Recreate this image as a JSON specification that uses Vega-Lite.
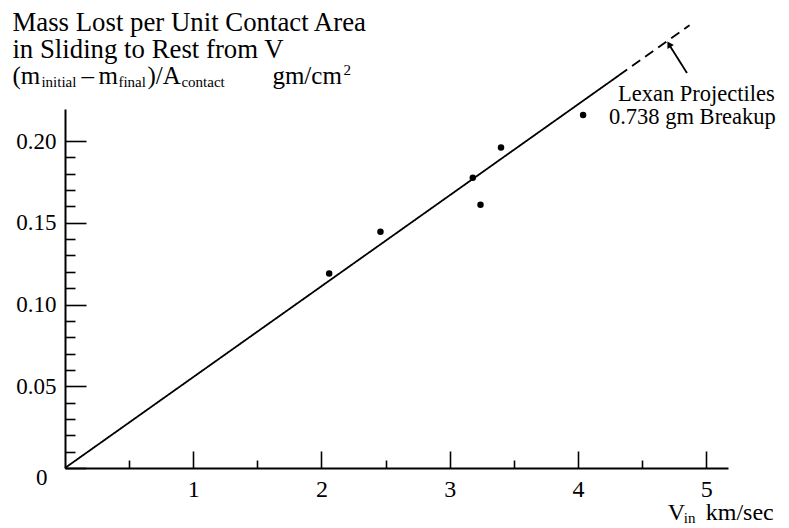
{
  "$schema": "https://vega.github.io/schema/vega-lite/v6.json",
  "width": 663,
  "height": 359,
  "autosize": {"type": "none"},
  "padding": {"left": 65, "top": 109, "right": 61, "bottom": 60},
  "background": "white",
  "config": {
    "view": {"stroke": null},
    "font": "Liberation Serif",
    "text": {"font": "Liberation Serif", "color": "black"}
  },
  "datasets": {
    "points": [
      {"v": 2.06, "m": 0.119},
      {"v": 2.46, "m": 0.1445},
      {"v": 3.18, "m": 0.1776},
      {"v": 3.24, "m": 0.161},
      {"v": 3.40, "m": 0.196},
      {"v": 4.04, "m": 0.216}
    ],
    "fit": [
      {"v": 0, "m": 0, "part": "solid"},
      {"v": 4.32, "m": 0.2402, "part": "solid"},
      {"v": 4.32, "m": 0.2402, "part": "dashed"},
      {"v": 4.87, "m": 0.2708, "part": "dashed"}
    ]
  },
  "layer": [
    {
      "data": {"name": "fit"},
      "mark": {"type": "line", "color": "black", "strokeWidth": 1.8, "clip": false},
      "encoding": {
        "x": {"field": "v", "type": "quantitative", "scale": {"domain": [0, 5.17], "nice": false, "zero": false},
          "axis": {
            "orient": "bottom",
            "values": [0.5, 1, 1.5, 2, 2.5, 3, 3.5, 4, 4.5, 5],
            "tickCount": 100,
            "grid": false,
            "title": null,
            "domainColor": "black",
            "domainWidth": 2,
            "tickColor": "black",
            "tickWidth": 1.6,
            "tickSize": {"condition": {"test": "datum.value % 1 === 0", "value": -17}, "value": -8},
            "labelExpr": "datum.value % 1 === 0 ? format(datum.value, 'd') : ''",
            "labelFont": "Liberation Serif",
            "labelFontSize": 24,
            "labelColor": "black",
            "labelPadding": 26,
            "labelFlush": false,
            "labelOverlap": false
          }
        },
        "y": {"field": "m", "type": "quantitative", "scale": {"domain": [0, 0.2196], "nice": false, "zero": false},
          "axis": {
            "orient": "left",
            "values": [0, 0.01, 0.02, 0.03, 0.04, 0.05, 0.06, 0.07, 0.08, 0.09, 0.1, 0.11, 0.12, 0.13, 0.14, 0.15, 0.16, 0.17, 0.18, 0.19, 0.2],
            "tickCount": 100,
            "grid": false,
            "title": null,
            "domainColor": "black",
            "domainWidth": 2,
            "tickColor": "black",
            "tickWidth": 1.6,
            "tickSize": {"condition": {"test": "abs(datum.value*20 - round(datum.value*20)) < 0.001", "value": -21}, "value": -10},
            "labelExpr": "abs(datum.value*20 - round(datum.value*20)) < 0.001 ? (datum.value == 0 ? '0' : format(datum.value, '.2f')) : ''",
            "labelFont": "Liberation Serif",
            "labelFontSize": 23,
            "labelColor": "black",
            "labelPadding": {"condition": {"test": "datum.value == 0", "value": 39}, "value": 30},
            "labelOffset": {"condition": {"test": "datum.value == 0", "value": 9}, "value": 0},
            "labelFlush": false,
            "labelOverlap": false
          }
        },
        "strokeDash": {"field": "part", "type": "nominal", "scale": {"domain": ["solid", "dashed"], "range": [[1, 0], [10, 6]]}, "legend": null}
      }
    },
    {
      "data": {"name": "points"},
      "mark": {"type": "circle", "size": 42, "color": "black", "opacity": 1},
      "encoding": {
        "x": {"field": "v", "type": "quantitative"},
        "y": {"field": "m", "type": "quantitative"}
      }
    },
    {
      "data": {"values": [{}]},
      "mark": {"type": "rule", "color": "black", "strokeWidth": 1.8, "clip": false},
      "encoding": {
        "x": {"datum": 4.85},
        "y": {"datum": 0.2416},
        "x2": {"datum": 4.715},
        "y2": {"datum": 0.2585}
      }
    },
    {
      "data": {"values": [{}]},
      "mark": {"type": "point", "shape": "triangle-up", "size": 55, "filled": true, "color": "black", "opacity": 1, "angle": 329, "clip": false},
      "encoding": {
        "x": {"datum": 4.71},
        "y": {"datum": 0.2592}
      }
    },
    {
      "data": {"values": [{}]},
      "mark": {"type": "text", "text": "Lexan Projectiles", "fontSize": 22.5, "align": "left", "baseline": "alphabetic"},
      "encoding": {"x": {"datum": 4.312}, "y": {"datum": 0.2245}}
    },
    {
      "data": {"values": [{}]},
      "mark": {"type": "text", "text": "0.738 gm Breakup", "fontSize": 22.5, "align": "left", "baseline": "alphabetic"},
      "encoding": {"x": {"datum": 4.242}, "y": {"datum": 0.2104}}
    },
    {
      "data": {"values": [{}]},
      "mark": {"type": "text", "text": "Mass Lost per Unit Contact Area", "fontSize": 26.8, "align": "left", "baseline": "alphabetic"},
      "encoding": {"x": {"datum": -0.41}, "y": {"datum": 0.2673}}
    },
    {
      "data": {"values": [{}]},
      "mark": {"type": "text", "text": "in Sliding to Rest from V", "fontSize": 26.8, "align": "left", "baseline": "alphabetic"},
      "encoding": {"x": {"datum": -0.41}, "y": {"datum": 0.2508}}
    },
    {
      "data": {"values": [{}]},
      "mark": {"type": "text", "text": "(m", "fontSize": 25, "align": "left", "baseline": "alphabetic"},
      "encoding": {"x": {"datum": -0.41}, "y": {"datum": 0.2349}}
    },
    {
      "data": {"values": [{}]},
      "mark": {"type": "text", "text": "initial", "fontSize": 15, "align": "left", "baseline": "alphabetic", "dx": 29, "dy": 3},
      "encoding": {"x": {"datum": -0.41}, "y": {"datum": 0.2349}}
    },
    {
      "data": {"values": [{}]},
      "mark": {"type": "text", "text": "–", "fontSize": 25, "align": "left", "baseline": "alphabetic", "dx": 69},
      "encoding": {"x": {"datum": -0.41}, "y": {"datum": 0.2349}}
    },
    {
      "data": {"values": [{}]},
      "mark": {"type": "text", "text": "m", "fontSize": 25, "align": "left", "baseline": "alphabetic", "dx": 86},
      "encoding": {"x": {"datum": -0.41}, "y": {"datum": 0.2349}}
    },
    {
      "data": {"values": [{}]},
      "mark": {"type": "text", "text": "final", "fontSize": 15, "align": "left", "baseline": "alphabetic", "dx": 106, "dy": 3},
      "encoding": {"x": {"datum": -0.41}, "y": {"datum": 0.2349}}
    },
    {
      "data": {"values": [{}]},
      "mark": {"type": "text", "text": ")/A", "fontSize": 25, "align": "left", "baseline": "alphabetic", "dx": 135},
      "encoding": {"x": {"datum": -0.41}, "y": {"datum": 0.2349}}
    },
    {
      "data": {"values": [{}]},
      "mark": {"type": "text", "text": "contact", "fontSize": 15, "align": "left", "baseline": "alphabetic", "dx": 169, "dy": 3},
      "encoding": {"x": {"datum": -0.41}, "y": {"datum": 0.2349}}
    },
    {
      "data": {"values": [{}]},
      "mark": {"type": "text", "text": "gm/cm", "fontSize": 25, "align": "left", "baseline": "alphabetic", "dx": 260},
      "encoding": {"x": {"datum": -0.41}, "y": {"datum": 0.2349}}
    },
    {
      "data": {"values": [{}]},
      "mark": {"type": "text", "text": "2", "fontSize": 15, "align": "left", "baseline": "alphabetic", "dx": 331, "dy": -9},
      "encoding": {"x": {"datum": -0.41}, "y": {"datum": 0.2349}}
    },
    {
      "data": {"values": [{}]},
      "mark": {"type": "text", "text": "V", "fontSize": 24, "align": "left", "baseline": "alphabetic"},
      "encoding": {"x": {"datum": 4.70}, "y": {"datum": -0.0318}}
    },
    {
      "data": {"values": [{}]},
      "mark": {"type": "text", "text": "in", "fontSize": 15, "align": "left", "baseline": "alphabetic", "dx": 16, "dy": 3},
      "encoding": {"x": {"datum": 4.70}, "y": {"datum": -0.0318}}
    },
    {
      "data": {"values": [{}]},
      "mark": {"type": "text", "text": "km/sec", "fontSize": 24, "align": "left", "baseline": "alphabetic", "dx": 38},
      "encoding": {"x": {"datum": 4.70}, "y": {"datum": -0.0318}}
    }
  ]
}
